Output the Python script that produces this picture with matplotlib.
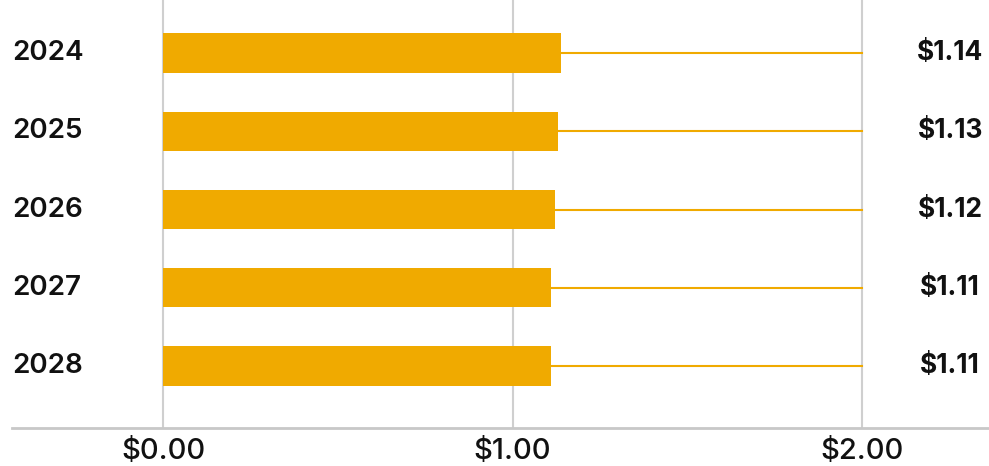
import matplotlib.pyplot as plt

years = ['2024', '2025', '2026', '2027', '2028']
values = [1.14, 1.13, 1.12, 1.11, 1.11]
value_labels = ['$1.14', '$1.13', '$1.12', '$1.11', '$1.11']
xticks = [0, 1, 2]
xtick_labels = ['$0.00', '$1.00', '$2.00']

bar_color = '#F0AA00'

fig = plt.figure(figsize=(9.89, 4.66), dpi=100)
ax = fig.add_axes([12 / 989, 38 / 466, 977 / 989, 428 / 466])

pos = list(range(len(years)))

# thin line from bar end out to the $2.00 gridline
for p, v in zip(pos, values):
    ax.plot([v, 2], [p, p], color=bar_color, lw=1.5, zorder=2)

ax.barh(pos, values, height=0.5, color=bar_color, zorder=3)

for x in xticks:
    ax.axvline(x, color='#cfcfcf', lw=1.5, zorder=1)

ax.set_xlim(-0.432, 2.363)
ax.set_ylim(4.792, -0.677)

for p, y, lab in zip(pos, years, value_labels):
    ax.text(-0.432, p, y, ha='left', va='center', fontsize=20,
            family=['Inter', 'DejaVu Sans'], fontweight='semibold', color='#111111')
    ax.text(2.252, p, lab, ha='center', va='center', fontsize=19,
            family=['Inter', 'DejaVu Sans'], fontweight='bold', color='#111111')

ax.set_xticks(xticks)
ax.set_xticklabels(xtick_labels, fontsize=21,
                   family=['Inter', 'DejaVu Sans'], fontweight='medium', color='#111111')
ax.tick_params(axis='x', length=0, pad=7)
ax.set_yticks([])

for s in ['top', 'left', 'right']:
    ax.spines[s].set_visible(False)
ax.spines['bottom'].set_color('#c8c8c8')
ax.spines['bottom'].set_linewidth(2)

fig.savefig('out.png', dpi=100)
